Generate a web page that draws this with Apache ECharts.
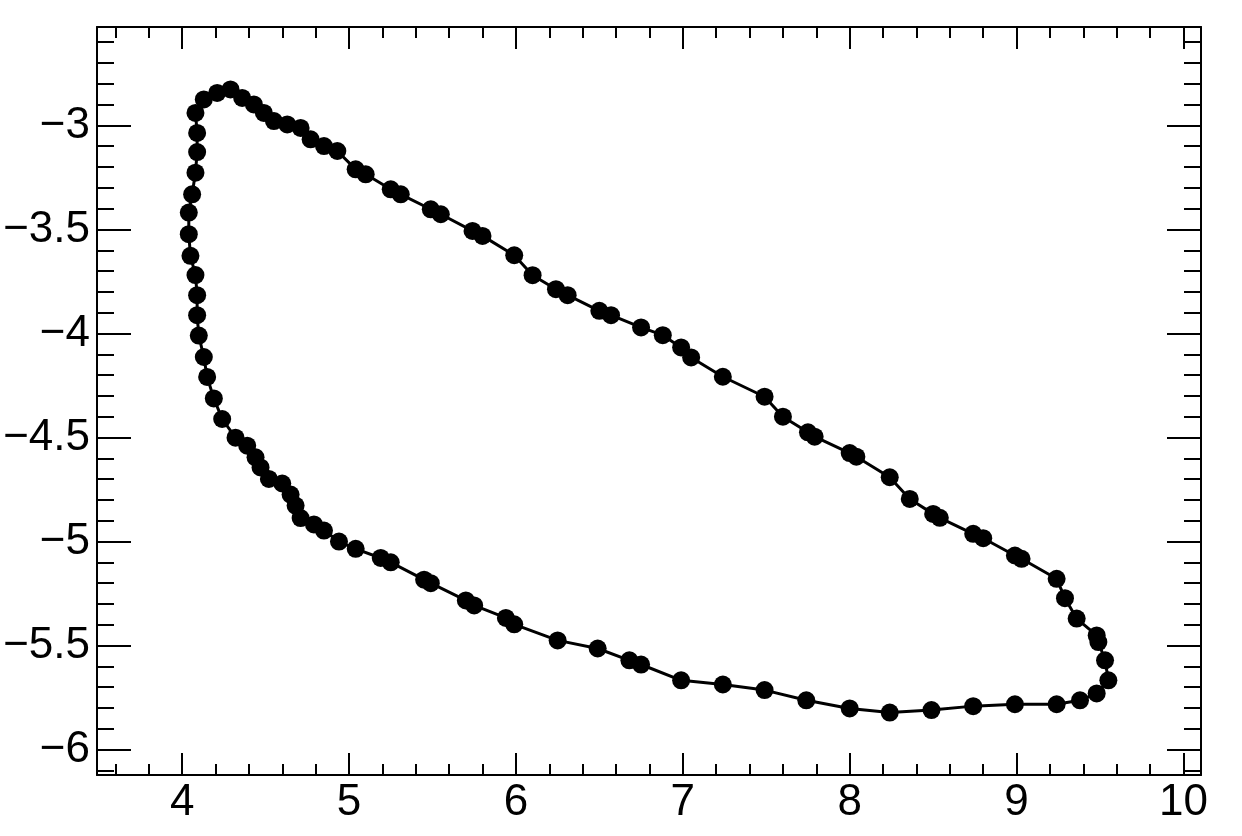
<!DOCTYPE html>
<html>
<head>
<meta charset="utf-8">
<script src="https://cdn.jsdelivr.net/npm/echarts@6/dist/echarts.min.js"></script>
<style>
html,body{margin:0;padding:0;background:#fff;}
#chart{width:1242px;height:836px;}
</style>
</head>
<body>
<div id="chart"></div>
<script>
// Closed loop, in drawing order
const xValues = [
  4.13, 4.21, 4.29, 4.36, 4.43, 4.49, 4.55, 4.63, 4.71, 4.77,
  4.85, 4.93, 5.04, 5.10, 5.25, 5.31, 5.49, 5.55, 5.74, 5.80,
  5.99, 6.10, 6.24, 6.31, 6.50, 6.57, 6.75, 6.88, 6.99, 7.05,
  7.24, 7.49, 7.60, 7.75, 7.79, 8.00, 8.04, 8.24, 8.36, 8.50,
  8.54, 8.74, 8.80, 8.99, 9.03, 9.24, 9.29, 9.36, 9.48, 9.49,
  9.53, 9.55, 9.48, 9.38, 9.24, 8.99, 8.74, 8.49, 8.24, 8.00,
  7.74, 7.49, 7.24, 6.99, 6.75, 6.68, 6.49, 6.25, 5.99, 5.94,
  5.75, 5.70, 5.49, 5.45, 5.25, 5.19, 5.04, 4.94, 4.85, 4.79,
  4.71, 4.68, 4.65, 4.60, 4.52, 4.47, 4.44, 4.39, 4.32, 4.24,
  4.19, 4.15, 4.13, 4.10, 4.09, 4.09, 4.08, 4.05, 4.04, 4.04,
  4.06, 4.08, 4.09, 4.09, 4.08
];
const yValues = [
  -2.875, -2.844, -2.827, -2.868, -2.899, -2.940, -2.979, -2.995, -3.012, -3.067,
  -3.099, -3.123, -3.211, -3.235, -3.307, -3.331, -3.403, -3.427, -3.507, -3.531,
  -3.624, -3.720, -3.787, -3.816, -3.891, -3.912, -3.971, -4.008, -4.067, -4.115,
  -4.208, -4.304, -4.400, -4.475, -4.496, -4.575, -4.592, -4.691, -4.795, -4.867,
  -4.886, -4.963, -4.984, -5.067, -5.083, -5.179, -5.272, -5.370, -5.451, -5.483,
  -5.571, -5.667, -5.730, -5.763, -5.782, -5.782, -5.791, -5.810, -5.822, -5.802,
  -5.763, -5.714, -5.687, -5.667, -5.591, -5.571, -5.514, -5.475, -5.398, -5.367,
  -5.307, -5.283, -5.200, -5.183, -5.100, -5.079, -5.035, -5.000, -4.947, -4.918,
  -4.887, -4.827, -4.774, -4.721, -4.699, -4.644, -4.595, -4.539, -4.501, -4.411,
  -4.312, -4.209, -4.113, -4.010, -3.912, -3.816, -3.719, -3.627, -3.523, -3.419,
  -3.331, -3.227, -3.128, -3.036, -2.940
];
const xRange = [3.49, 10.105];
const yRange = [-6.122, -2.527];

const points = xValues.map((x, i) => [x, yValues[i]]);

const FONT = 'Liberation Sans';
const fmt = v => String(v).replace('-', '\u2212');

function xAx(pos, labels) {
  return {
    type: 'value', position: pos, min: xRange[0], max: xRange[1],
    splitNumber: 6,
    axisLine: {show: true, onZero: false, lineStyle: {color: '#000', width: 2}},
    axisTick: {show: true, inside: true, length: 22, lineStyle: {color: '#000', width: 2}},
    minorTick: {show: true, splitNumber: 5, length: 11, lineStyle: {color: '#000', width: 2}},
    splitLine: {show: false}, minorSplitLine: {show: false},
    axisLabel: {show: labels, showMinLabel: false, showMaxLabel: false, margin: 6,
      color: '#000', fontSize: 44, fontFamily: FONT, formatter: fmt}
  };
}
function yAx(pos, labels) {
  return {
    type: 'value', position: pos, min: yRange[0], max: yRange[1],
    splitNumber: 7,
    axisLine: {show: true, onZero: false, lineStyle: {color: '#000', width: 2}},
    axisTick: {show: true, inside: true, length: 34, lineStyle: {color: '#000', width: 2}},
    minorTick: {show: true, splitNumber: 5, length: 17, lineStyle: {color: '#000', width: 2}},
    splitLine: {show: false}, minorSplitLine: {show: false},
    axisLabel: {show: labels, showMinLabel: false, showMaxLabel: false, margin: 7,
      color: '#000', fontSize: 44, fontFamily: FONT, formatter: fmt}
  };
}

const chart = echarts.init(document.getElementById('chart'), null, {renderer: 'canvas'});
chart.setOption({
  animation: false,
  backgroundColor: '#fff',
  grid: {left: 97, right: 41, top: 27, bottom: 61, containLabel: false},
  xAxis: [xAx('bottom', true), xAx('top', false)],
  yAxis: [yAx('left', true), yAx('right', false)],
  series: [{
    type: 'line',
    xAxisIndex: 0, yAxisIndex: 0,
    data: points,
    symbol: 'circle',
    symbolSize: 18,
    showAllSymbol: true,
    itemStyle: {color: '#000'},
    lineStyle: {color: '#000', width: 3},
    clip: false
  }]
});
</script>
</body>
</html>
